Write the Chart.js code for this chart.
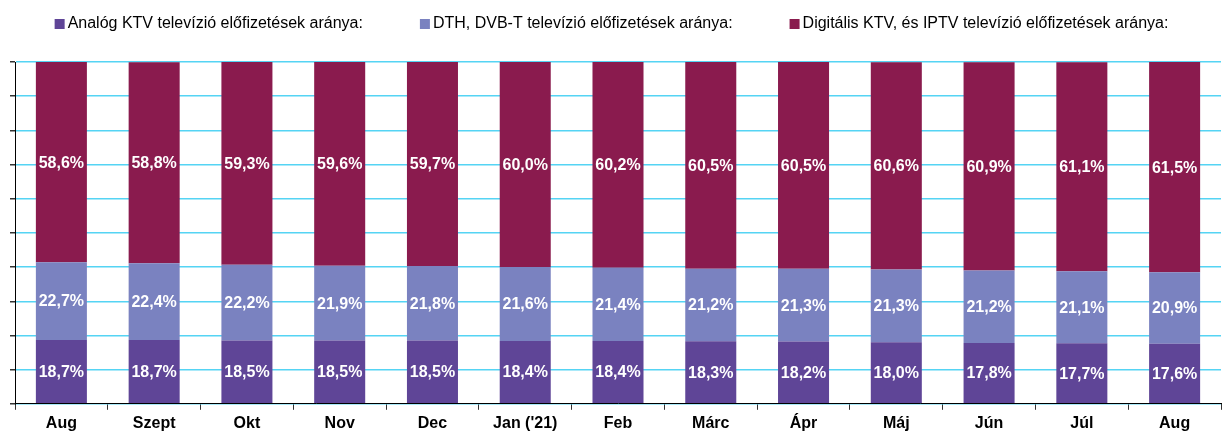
<!DOCTYPE html>
<html>
<head>
<meta charset="utf-8">
<script src="https://cdn.jsdelivr.net/npm/chart.js@4"></script>
<style>
  html, body { margin: 0; padding: 0; background: #fff; }
  #wrap { width: 1223px; height: 432px; position: relative; }
</style>
</head>
<body>
<div id="wrap"><canvas id="chart"></canvas></div>
<script>
// --- data ---
const months = ['Aug', 'Szept', 'Okt', 'Nov', 'Dec', "Jan ('21)", 'Feb', 'Márc', 'Ápr', 'Máj', 'Jún', 'Júl', 'Aug'];
const analogKtv  = [18.7, 18.7, 18.5, 18.5, 18.5, 18.4, 18.4, 18.3, 18.2, 18.0, 17.8, 17.7, 17.6];
const dthDvbt    = [22.7, 22.4, 22.2, 21.9, 21.8, 21.6, 21.4, 21.2, 21.3, 21.3, 21.2, 21.1, 20.9];
const digitalKtv = [58.6, 58.8, 59.3, 59.6, 59.7, 60.0, 60.2, 60.5, 60.5, 60.6, 60.9, 61.1, 61.5];

const seriesNames = [
    'Analóg KTV televízió előfizetések aránya:',
    'DTH, DVB-T televízió előfizetések aránya:',
    'Digitális KTV, és IPTV televízió előfizetések aránya:'
];
const COLORS = ['#5f4597', '#7a82c0', '#8a1b4e'];

const FONT = "'Liberation Sans', Arial, sans-serif";

// white % labels centred in each segment
const segmentLabels = {
    id: 'segmentLabels',
    afterDatasetsDraw(chart) {
        const ctx = chart.ctx;
        ctx.save();
        ctx.font = 'bold 16px ' + FONT;
        ctx.fillStyle = '#fff';
        ctx.textAlign = 'center';
        ctx.textBaseline = 'middle';
        chart.data.datasets.forEach((ds, i) => {
            chart.getDatasetMeta(i).data.forEach((bar, j) => {
                const mid = (bar.y + bar.base) / 2;
                ctx.fillText(ds.data[j].toFixed(1).replace('.', ',') + '%', bar.x, mid + 1);
            });
        });
        ctx.restore();
    }
};

// simple legend: small square, tight gap, centred row at the top
const topLegend = {
    id: 'topLegend',
    afterDraw(chart) {
        const ctx = chart.ctx;
        const box = 10, gapText = 3, gapItem = 57, yMid = 24;
        ctx.save();
        ctx.font = '16px ' + FONT;
        ctx.textBaseline = 'middle';
        const widths = chart.data.datasets.map(ds => box + gapText + ctx.measureText(ds.label).width);
        const total = widths.reduce((s, w) => s + w, 0) + gapItem * (widths.length - 1);
        let x = (chart.width - total) / 2;
        chart.data.datasets.forEach((ds, i) => {
            ctx.fillStyle = ds.backgroundColor;
            ctx.fillRect(x, yMid - box / 2, box, box);
            ctx.fillStyle = '#000';
            ctx.fillText(ds.label, x + box + gapText, yMid);
            x += widths[i] + gapItem;
        });
        ctx.restore();
    }
};

const mkSet = (label, data, color) => ({
    label, data,
    backgroundColor: color,
    borderWidth: 0,
    categoryPercentage: 1,
    barPercentage: 0.55,
});

new Chart(document.getElementById('chart'), {
    type: 'bar',
    data: {
        labels: months,
        datasets: [
            mkSet(seriesNames[0], analogKtv, COLORS[0]),
            mkSet(seriesNames[1], dthDvbt, COLORS[1]),
            mkSet(seriesNames[2], digitalKtv, COLORS[2]),
        ]
    },
    options: {
        responsive: true, maintainAspectRatio: false,
        animation: false,
        layout: { padding: { left: 10, right: 2, top: 62, bottom: -5 } },
        plugins: {
            legend: { display: false },
            tooltip: { enabled: false }
        },
        scales: {
            x: {
                stacked: true,
                grid: { drawOnChartArea: false, drawTicks: true, tickLength: 6, tickColor: '#333', offset: true },
                border: { color: '#000', width: 1 },
                ticks: { color: '#000', font: { family: FONT, size: 16, weight: 'bold' }, padding: 4 }
            },
            y: {
                stacked: true,
                min: 0, max: 100,
                grid: { color: '#55d4f4', lineWidth: 1.5, tickLength: 5, tickColor: '#333' },
                border: { color: '#000', width: 1 },
                ticks: { stepSize: 10, display: false }
            }
        }
    },
    plugins: [segmentLabels, topLegend]
});
</script>
</body>
</html>
